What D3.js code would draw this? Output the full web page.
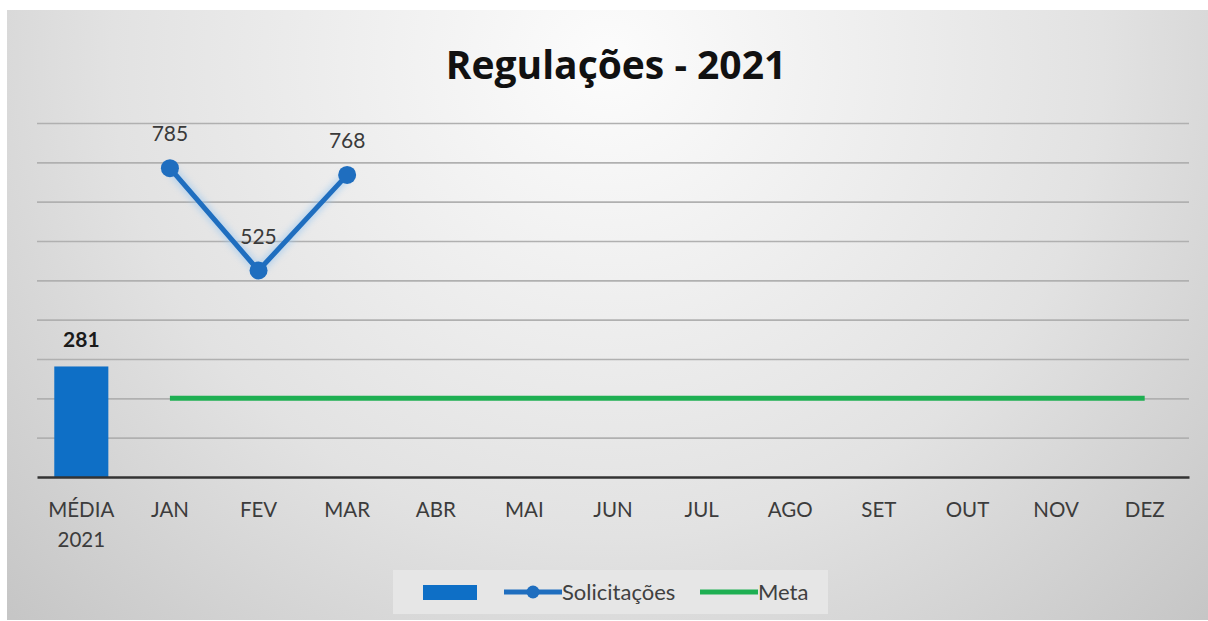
<!DOCTYPE html>
<html>
<head>
<meta charset="utf-8">
<script src="https://cdn.jsdelivr.net/npm/d3@7"></script>
<style>
  body { margin: 0; background: #fff; }
  svg { display: block; }
</style>
</head>
<body>
<script>
// data
let categories = ['MÉDIA 2021', 'JAN', 'FEV', 'MAR', 'ABR', 'MAI', 'JUN', 'JUL', 'AGO', 'SET', 'OUT', 'NOV', 'DEZ'];
let mediaValue = [281];
let solicitacoes = [785, 525, 768];
let meta = [200, 200, 200, 200, 200, 200, 200, 200, 200, 200, 200, 200];
let yTicks = [0, 100, 200, 300, 400, 500, 600, 700, 800, 900];

let width = 1208, height = 621;
let plotLeft = 37, plotRight = 1189, plotTop = 123, plotBottom = 477;
let font = 'Lato, "Open Sans", sans-serif';

let svg = d3.select('body')
  .append('svg')
  .attr('width', width)
  .attr('height', height);

// background gradient of the chart box
let defs = svg.append('defs');
let grad = defs.append('radialGradient')
  .attr('id', 'bg')
  .attr('cx', '50%').attr('cy', '8%')
  .attr('r', '75%')
  .attr('gradientTransform', 'translate(0.5,0.08) scale(1,1.9) translate(-0.5,-0.08)');
grad.append('stop').attr('offset', '0%').attr('stop-color', '#fcfcfc');
grad.append('stop').attr('offset', '55%').attr('stop-color', '#e2e2e2');
grad.append('stop').attr('offset', '100%').attr('stop-color', '#c0c0c0');

defs.append('filter').attr('id', 'glow')
  .append('feGaussianBlur').attr('stdDeviation', 3);

svg.append('rect')
  .attr('x', 7).attr('y', 10)
  .attr('width', 1201).attr('height', 610)
  .attr('fill', 'url(#bg)');

let x = d3.scaleBand()
  .domain(categories)
  .range([plotLeft, plotRight])
  .padding(0);

let y = d3.scaleLinear()
  .domain([0, 900])
  .range([plotBottom, plotTop]);

function cx(c) { return x(c) + x.bandwidth() / 2; }

// gridlines
svg.append('g')
  .attr('transform', 'translate(' + plotLeft + ',0)')
  .call(d3.axisLeft(y).tickValues(yTicks.slice(1)).tickSize(-(plotRight - plotLeft)).tickFormat(''))
  .call(g => g.select('.domain').remove())
  .call(g => g.selectAll('line').attr('stroke', '#b0b0b0').attr('stroke-width', 1.6));

// bar for the average
let barW = x.bandwidth() * 0.61;
svg.selectAll('rect.bar')
  .data(mediaValue)
  .join('rect')
  .attr('class', 'bar')
  .attr('x', cx(categories[0]) - barW / 2)
  .attr('y', d => y(d))
  .attr('width', barW)
  .attr('height', d => y(0) - y(d))
  .attr('fill', '#0e6fc6');

svg.selectAll('text.barlabel')
  .data(mediaValue)
  .join('text')
  .attr('class', 'barlabel')
  .attr('x', cx(categories[0]))
  .attr('y', d => y(d) - 19)
  .attr('text-anchor', 'middle')
  .attr('font-family', font)
  .attr('font-weight', 'bold')
  .attr('font-size', 21)
  .attr('fill', '#1a1a1a')
  .text(d => d);

// x axis
let xAxis = svg.append('g')
  .attr('transform', 'translate(0,' + plotBottom + ')')
  .call(d3.axisBottom(x).tickSize(0).tickFormat(''));
xAxis.select('.domain').attr('stroke', '#333').attr('stroke-width', 2.4);

let labels = svg.append('g')
  .selectAll('text')
  .data(categories)
  .join('text')
  .attr('x', d => cx(d))
  .attr('y', 517)
  .attr('text-anchor', 'middle')
  .attr('font-family', font)
  .attr('font-size', 20.5)
  .attr('fill', '#3c3c3c');
labels.each(function(d) {
  let parts = d.split(' ');
  let t = d3.select(this);
  parts.forEach((p, i) => {
    t.append('tspan').attr('x', cx(d)).attr('dy', i ? 30 : 0).text(p);
  });
});

// meta line
let metaCats = categories.slice(1);
svg.append('path')
  .datum(meta)
  .attr('fill', 'none')
  .attr('stroke', '#1eaf52')
  .attr('stroke-width', 5)
  .attr('d', d3.line().x((d, i) => cx(metaCats[i])).y(d => y(d)));

// solicitações line, with a faint halo like the source
let solLine = d3.line().x((d, i) => cx(metaCats[i])).y(d => y(d));
svg.append('path')
  .datum(solicitacoes)
  .attr('fill', 'none')
  .attr('stroke', '#9cc8f0')
  .attr('stroke-width', 10)
  .attr('opacity', 0.6)
  .attr('filter', 'url(#glow)')
  .attr('d', solLine);

svg.append('path')
  .datum(solicitacoes)
  .attr('fill', 'none')
  .attr('stroke', '#1f6ebf')
  .attr('stroke-width', 5)
  .attr('d', solLine);

svg.selectAll('circle.pt')
  .data(solicitacoes)
  .join('circle')
  .attr('class', 'pt')
  .attr('cx', (d, i) => cx(metaCats[i]))
  .attr('cy', d => y(d))
  .attr('r', 9)
  .attr('fill', '#1f6ebf');

svg.selectAll('text.ptlabel')
  .data(solicitacoes)
  .join('text')
  .attr('class', 'ptlabel')
  .attr('x', (d, i) => cx(metaCats[i]))
  .attr('y', d => y(d) - 27)
  .attr('text-anchor', 'middle')
  .attr('font-family', font)
  .attr('font-size', 21)
  .attr('fill', '#3a3a3a')
  .text(d => d);

// title
svg.append('text')
  .attr('x', 616)
  .attr('y', 79)
  .attr('text-anchor', 'middle')
  .attr('font-family', '"Open Sans", Lato, sans-serif')
  .attr('font-weight', 'bold')
  .attr('font-size', 39)
  .attr('fill', '#111')
  .text('Regulações - 2021');

// legend
let lg = svg.append('g');
lg.append('rect')
  .attr('x', 393).attr('y', 570)
  .attr('width', 435).attr('height', 44)
  .attr('fill', '#e6e6e6');
lg.append('rect')
  .attr('x', 423).attr('y', 585)
  .attr('width', 54).attr('height', 15)
  .attr('fill', '#0e6fc6');
lg.append('line')
  .attr('x1', 504).attr('x2', 562).attr('y1', 592).attr('y2', 592)
  .attr('stroke', '#1f6ebf').attr('stroke-width', 5);
lg.append('circle')
  .attr('cx', 533).attr('cy', 592).attr('r', 6.5)
  .attr('fill', '#1f6ebf');
lg.append('text')
  .attr('x', 562).attr('y', 600)
  .attr('font-family', font).attr('font-size', 22)
  .attr('fill', '#404040')
  .text('Solicitações');
lg.append('line')
  .attr('x1', 700).attr('x2', 758).attr('y1', 592).attr('y2', 592)
  .attr('stroke', '#1eaf52').attr('stroke-width', 5);
lg.append('text')
  .attr('x', 758).attr('y', 600)
  .attr('font-family', font).attr('font-size', 22)
  .attr('fill', '#404040')
  .text('Meta');
</script>
</body>
</html>
